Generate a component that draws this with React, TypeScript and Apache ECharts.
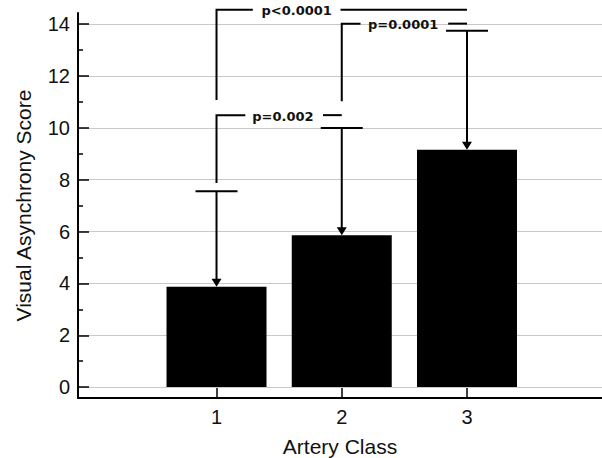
import React, { useEffect, useRef } from 'react';
import * as echarts from 'echarts';

const categories = [1, 2, 3];
const means = [3.87, 5.86, 9.16];
const upperErrors = [7.55, 9.99, 13.75];

const yMajorTicks = [0, 2, 4, 6, 8, 10, 12, 14];
const yMinorTicks = [1, 3, 5, 7, 9, 11, 13];
const xTicks = [1, 2, 3];

const bracketLabels = ['p=0.002', 'p<0.0001', 'p=0.0001'];
const bracketY = [10.49, 14.56, 14.02];
const bracketLegX = [1, 1, 2];
const bracketLegBottom = [7.87, 11.07, 11.03];
const bracketLeftEnd = [1.23, 1.29, 2.15];
const bracketRightStart = [1.85, 1.99, 2.85];
const bracketRightEnd = [2, 3, 3];
const bracketLabelX = [1.53, 1.64, 2.49];

const FONT = '"Liberation Sans", Arial, sans-serif';

export default function App() {
  const ref = useRef<HTMLDivElement>(null);
  useEffect(() => {
    document.body.style.margin = '0';
    const chart = echarts.init(ref.current!, null, { renderer: 'svg' });
    const option: any = {
      animation: false,
      backgroundColor: '#fff',
      grid: { left: 78, right: 0, top: 13, bottom: 60, containLabel: false, outerBoundsMode: 'none' },
      xAxis: {
        type: 'value',
        min: -0.106,
        max: 4.078,
        axisLine: { show: true, onZero: false, lineStyle: { color: '#000', width: 2 } },
        axisTick: { show: true, inside: true, length: 10, customValues: xTicks, lineStyle: { color: '#000', width: 1.5 } },
        axisLabel: { customValues: xTicks, fontSize: 20, color: '#111', margin: 9, fontFamily: FONT },
        splitLine: { show: false },
        name: 'Artery Class',
        nameLocation: 'middle',
        nameGap: 38,
        nameTextStyle: { fontSize: 21, color: '#111', fontFamily: FONT },
      },
      yAxis: [
        {
          type: 'value',
          min: -0.42,
          max: 14.43,
          axisLine: { show: true, onZero: false, lineStyle: { color: '#000', width: 2 } },
          axisTick: { show: true, inside: true, length: 11, customValues: yMajorTicks, lineStyle: { color: '#000', width: 1.5 } },
          axisLabel: { customValues: yMajorTicks, fontSize: 20, color: '#111', margin: 8, fontFamily: FONT },
          splitLine: { show: true, lineStyle: { color: '#c8c8c8', width: 1 } },
          name: 'Visual Asynchrony Score',
          nameLocation: 'middle',
          nameGap: 44,
          nameTextStyle: { fontSize: 21, color: '#111', fontFamily: FONT },
        },
        {
          type: 'value',
          min: -0.42,
          max: 14.43,
          position: 'left',
          axisLine: { show: false, onZero: false },
          axisTick: { show: true, inside: true, length: 5, customValues: yMinorTicks, lineStyle: { color: '#000', width: 1.5 } },
          axisLabel: { show: false },
          splitLine: { show: false },
        },
      ],
      series: [
        {
          type: 'bar',
          data: categories.map((c, i) => [c, means[i]]),
          barWidth: 100,
          itemStyle: { color: '#000' },
        },
        {
          type: 'custom',
          clip: false,
          data: categories.map((c, i) => [c, means[i], upperErrors[i]]),
          renderItem: (params: any, api: any) => {
            const x = api.value(0);
            const top = api.coord([x, api.value(2)]);
            const bot = api.coord([x, api.value(1)]);
            return {
              type: 'group',
              children: [
                { type: 'line', shape: { x1: top[0], y1: top[1], x2: bot[0], y2: bot[1] - 6 }, style: { stroke: '#000', lineWidth: 2 } },
                { type: 'line', shape: { x1: top[0] - 21, y1: top[1], x2: top[0] + 21, y2: top[1] }, style: { stroke: '#000', lineWidth: 2 } },
                { type: 'polygon', shape: { points: [[bot[0] - 5, bot[1] - 8], [bot[0] + 5, bot[1] - 8], [bot[0], bot[1]]] }, style: { fill: '#000' } },
              ],
            };
          },
        },
        {
          type: 'custom',
          clip: false,
          data: bracketLabels.map((_, i) => [bracketLegX[i], bracketLegBottom[i], bracketY[i], bracketLeftEnd[i], bracketRightStart[i], bracketRightEnd[i], bracketLabelX[i]]),
          renderItem: (params: any, api: any) => {
            const legBot = api.coord([api.value(0), api.value(1)]);
            const corner = api.coord([api.value(0), api.value(2)]);
            const leftEnd = api.coord([api.value(3), api.value(2)]);
            const rs = api.coord([api.value(4), api.value(2)]);
            const re = api.coord([api.value(5), api.value(2)]);
            const lab = api.coord([api.value(6), api.value(2)]);
            return {
              type: 'group',
              children: [
                { type: 'polyline', shape: { points: [legBot, corner, leftEnd] }, style: { stroke: '#000', lineWidth: 2, fill: 'none' } },
                { type: 'line', shape: { x1: rs[0], y1: rs[1], x2: re[0], y2: re[1] }, style: { stroke: '#000', lineWidth: 2 } },
                {
                  type: 'text',
                  x: lab[0],
                  y: lab[1] + 1,
                  style: {
                    text: bracketLabels[params.dataIndex],
                    fontSize: 13,
                    fontWeight: 'bold',
                    fontFamily: '"DejaVu Sans", sans-serif',
                    fill: '#111',
                    align: 'center',
                    verticalAlign: 'middle',
                  },
                },
              ],
            };
          },
        },
      ],
    };
    chart.setOption(option);
    return () => chart.dispose();
  }, []);
  return <div ref={ref} style={{ width: 602, height: 458 }} />;
}
